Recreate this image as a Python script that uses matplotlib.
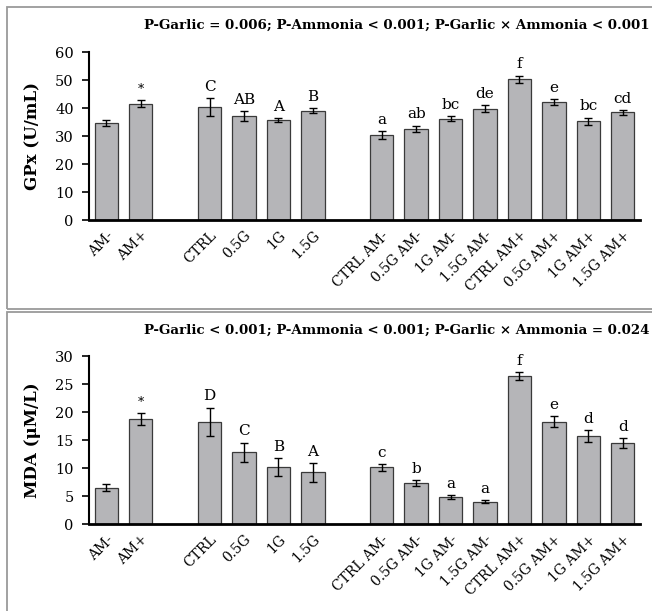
import numpy as np
import matplotlib
matplotlib.use('Agg')
from matplotlib import pyplot as plt
from matplotlib.patches import Rectangle

plt.rcParams['font.family'] = ['DejaVu Serif']

groups = [['AM-', 'AM+'],
          ['CTRL', '0.5G', '1G', '1.5G'],
          ['CTRL AM-', '0.5G AM-', '1G AM-', '1.5G AM-',
           'CTRL AM+', '0.5G AM+', '1G AM+', '1.5G AM+']]

gpx_mean = [34.7, 41.5, 40.3, 37.2, 35.7, 39.0,
            30.4, 32.5, 36.2, 39.7, 50.3, 42.1, 35.3, 38.4]
gpx_sd = [1.0, 1.3, 3.2, 1.8, 0.8, 0.9,
          1.5, 1.2, 0.9, 1.2, 1.3, 1.2, 1.3, 1.0]
gpx_letters = ['', '*', 'C', 'AB', 'A', 'B',
               'a', 'ab', 'bc', 'de', 'f', 'e', 'bc', 'cd']

mda_mean = [6.5, 18.7, 18.3, 12.8, 10.2, 9.2,
            10.1, 7.3, 4.8, 4.0, 26.4, 18.3, 15.7, 14.4]
mda_sd = [0.6, 1.05, 2.5, 1.75, 1.6, 1.65,
          0.6, 0.5, 0.3, 0.3, 0.75, 0.9, 1.1, 0.9]
mda_letters = ['', '*', 'D', 'C', 'B', 'A',
               'c', 'b', 'a', 'a', 'f', 'e', 'd', 'd']

gpx_title = 'P-Garlic = 0.006; P-Ammonia < 0.001; P-Garlic \u00d7 Ammonia < 0.001'
mda_title = 'P-Garlic < 0.001; P-Ammonia < 0.001; P-Garlic \u00d7 Ammonia = 0.024'

# bar positions: one empty slot between groups
pos, labels = [], []
p = 0
for g in groups:
    for lab in g:
        pos.append(p)
        labels.append(lab)
        p += 1
    p += 1


def panel(ax, mean, sd, letters, ylabel, ymax, step):
    ax.bar(pos, mean, width=0.68, color='#b5b5b8', edgecolor='#3a3a3a',
           linewidth=0.9, zorder=2)
    ax.errorbar(pos, mean, yerr=sd, fmt='none', ecolor='black',
                elinewidth=1, capsize=2.8, capthick=1, zorder=3)
    for x, m, s, t in zip(pos, mean, sd, letters):
        if t:
            ax.annotate(t, (x, m + s), xytext=(0, 3), textcoords='offset points',
                        ha='center', va='bottom',
                        fontsize=9 if t == '*' else 11)
    ax.set_xlim(-0.5, p - 1.5)
    ax.set_ylim(0, ymax)
    ax.set_yticks(np.arange(0, ymax + 1, step))
    ax.set_xticks(pos)
    ax.set_xticklabels(labels, rotation=45, ha='right', rotation_mode='anchor',
                       fontsize=10)
    ax.tick_params(axis='x', length=0, pad=6)
    ax.tick_params(axis='y', length=5, width=1.2, labelsize=10.5, pad=6)
    for s in ['top', 'right']:
        ax.spines[s].set_visible(False)
    ax.spines['left'].set_linewidth(1.5)
    ax.spines['bottom'].set_linewidth(2)
    ax.set_ylabel(ylabel, fontweight='bold', fontsize=12, labelpad=10)


fig = plt.figure(figsize=(6.52, 6.11), dpi=100)
W, H = 652.0, 611.0

fig.patches.append(Rectangle((7 / W, 1 - 309 / H), 700 / W, 302 / H,
                             transform=fig.transFigure, fill=False,
                             edgecolor='#9a9a9a', linewidth=1.3))
fig.patches.append(Rectangle((7 / W, -0.05), 700 / W, 1 - 312 / H + 0.05,
                             transform=fig.transFigure, fill=False,
                             edgecolor='#9a9a9a', linewidth=1.3))

ax1 = fig.add_axes([89 / W, 1 - 220 / H, 551 / W, 168 / H])
panel(ax1, gpx_mean, gpx_sd, gpx_letters, 'GPx (U/mL)', 60, 10)
ax2 = fig.add_axes([89 / W, 1 - 524 / H, 551 / W, 168 / H])
panel(ax2, mda_mean, mda_sd, mda_letters, 'MDA (\u03bcM/L)', 30, 5)

fig.text(649 / W, 1 - 25 / H, gpx_title, ha='right', va='center',
         fontweight='bold', fontsize=9.6)
fig.text(649 / W, 1 - 330 / H, mda_title, ha='right', va='center',
         fontweight='bold', fontsize=9.6)

fig.savefig('out.png', dpi=100)
